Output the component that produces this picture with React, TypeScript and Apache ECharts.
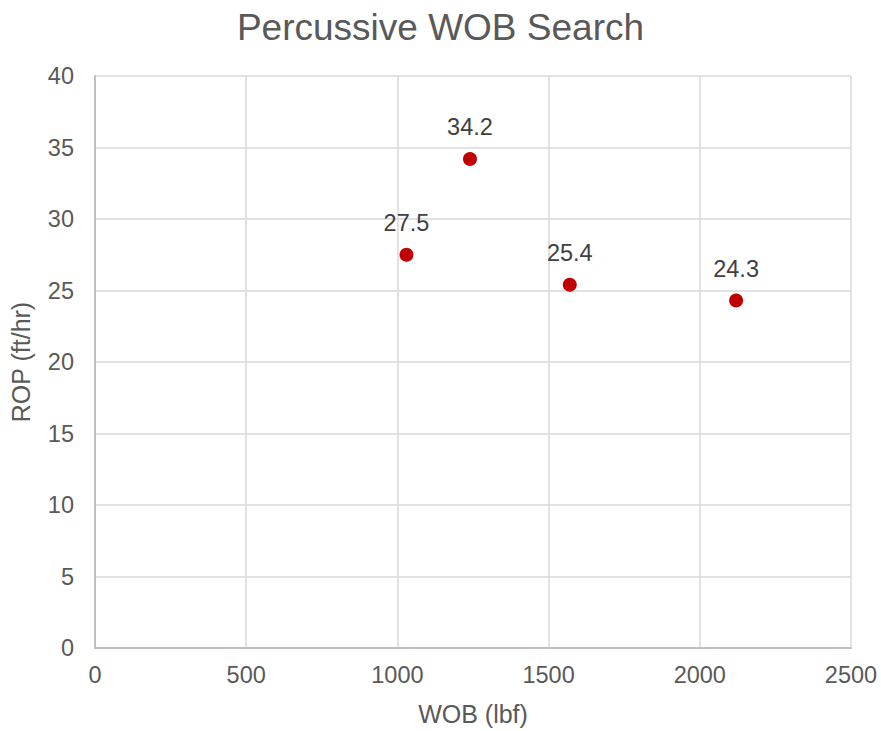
import React, { useEffect, useRef } from "react";
import * as echarts from "echarts";

const titleText = "Percussive WOB Search";
const xAxisName = "WOB (lbf)";
const yAxisName = "ROP (ft/hr)";
const wobValues = [1030, 1240, 1570, 2120];
const ropValues = [27.5, 34.2, 25.4, 24.3];
const xTicks = { min: 0, max: 2500, interval: 500 };
const yTicks = { min: 0, max: 40, interval: 5 };

export default function App() {
  const ref = useRef<HTMLDivElement>(null);
  useEffect(() => {
    if (!ref.current) return;
    const chart = echarts.init(ref.current, null, { renderer: "svg" });
    const font = "'Liberation Sans', Arial, sans-serif";
    const data = wobValues.map((x, i) => [x, ropValues[i]]);
    chart.setOption({
      animation: false,
      backgroundColor: "#ffffff",
      title: {
        text: titleText,
        left: "center",
        top: 4,
        textStyle: {
          fontFamily: font,
          fontSize: 37,
          lineHeight: 37,
          fontWeight: "normal",
          color: "#595959",
        },
      },
      grid: { left: 94, right: 30, top: 76, bottom: 79 },
      xAxis: {
        type: "value",
        min: xTicks.min,
        max: xTicks.max,
        interval: xTicks.interval,
        name: xAxisName,
        nameLocation: "middle",
        nameGap: 53,
        nameTextStyle: { fontFamily: font, fontSize: 25, lineHeight: 25, color: "#595959" },
        axisLine: { show: true, lineStyle: { color: "#BFBFBF", width: 2 } },
        axisTick: { show: false },
        axisLabel: {
          fontFamily: font,
          fontSize: 23.5,
          lineHeight: 23.5,
          color: "#595959",
          margin: 15,
          formatter: (v: number) => String(v),
        },
        splitLine: { show: true, lineStyle: { color: "#D9D9D9", width: 1.5 } },
      },
      yAxis: {
        type: "value",
        min: yTicks.min,
        max: yTicks.max,
        interval: yTicks.interval,
        name: yAxisName,
        nameLocation: "middle",
        nameGap: 62,
        nameTextStyle: { fontFamily: font, fontSize: 25, lineHeight: 25, color: "#595959" },
        axisLine: { show: true, lineStyle: { color: "#BFBFBF", width: 2 } },
        axisTick: { show: false },
        axisLabel: {
          fontFamily: font,
          fontSize: 23.5,
          color: "#595959",
          margin: 21,
          formatter: (v: number) => String(v),
        },
        splitLine: { show: true, lineStyle: { color: "#D9D9D9", width: 1.5 } },
      },
      series: [
        {
          type: "scatter",
          data,
          symbol: "circle",
          symbolSize: 14,
          itemStyle: { color: "#C00000", opacity: 1 },
          label: {
            show: true,
            position: "top",
            distance: 13,
            fontFamily: font,
            fontSize: 23.5,
            lineHeight: 23.5,
            color: "#404040",
            formatter: (p: any) => p.value[1].toFixed(1),
          },
        },
      ],
    });
    return () => chart.dispose();
  }, []);
  return (
    <div
      ref={ref}
      style={{ position: "fixed", left: 0, top: 0, width: 881, height: 731 }}
    />
  );
}
